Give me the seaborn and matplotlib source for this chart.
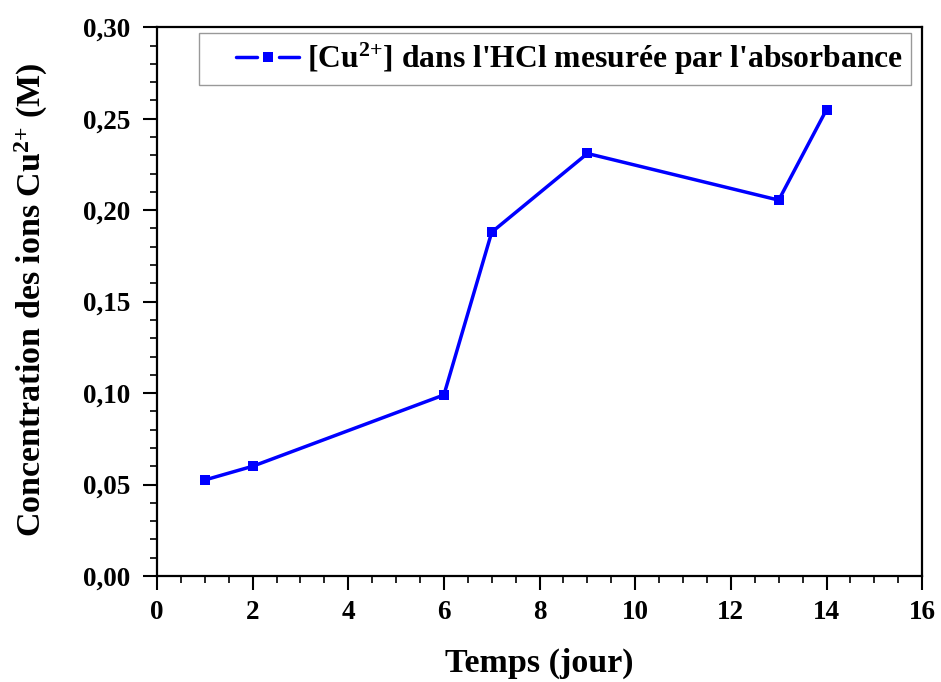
import matplotlib
matplotlib.use("Agg")
import matplotlib.pyplot as plt
import seaborn as sns
import pandas as pd
from matplotlib.ticker import MultipleLocator, FuncFormatter
from matplotlib.legend_handler import HandlerBase
from matplotlib.lines import Line2D

temps = [1, 2, 6, 7, 9, 13, 14]
concentration = [0.0525, 0.060, 0.099, 0.188, 0.231, 0.2055, 0.255]
series_label = "[Cu$^{2{+}}$] dans l'HCl mesurée par l'absorbance"
x_label = "Temps (jour)"
y_label = "Concentration des ions Cu$^{2{+}}$ (M)"

BLUE = "#0000FF"

sns.set_theme(style="ticks")
plt.rcParams['font.family'] = ['Liberation Serif', 'DejaVu Serif']
plt.rcParams['font.weight'] = 'bold'
plt.rcParams['text.color'] = 'black'
plt.rcParams['axes.labelcolor'] = 'black'
plt.rcParams['xtick.color'] = 'black'
plt.rcParams['ytick.color'] = 'black'
plt.rcParams['mathtext.fontset'] = 'custom'
plt.rcParams['mathtext.rm'] = 'Liberation Serif:bold'
plt.rcParams['mathtext.bf'] = 'Liberation Serif:bold'
plt.rcParams['mathtext.it'] = 'Liberation Serif:bold'
plt.rcParams['mathtext.default'] = 'bf'

df = pd.DataFrame({"t": temps, "c": concentration})

fig = plt.figure(figsize=(9.41, 6.82), dpi=100)
ax = fig.add_axes([0.1668, 0.1554, 0.8132, 0.8046])

sns.lineplot(data=df, x="t", y="c", ax=ax, color=BLUE, linewidth=2.5,
             marker="s", markersize=7.8, markeredgewidth=0)

ax.set_xlim(0, 16)
ax.set_ylim(0, 0.30)
ax.xaxis.set_major_locator(MultipleLocator(2))
ax.xaxis.set_minor_locator(MultipleLocator(0.5))
ax.yaxis.set_major_locator(MultipleLocator(0.05))
ax.yaxis.set_minor_locator(MultipleLocator(0.01))
ax.yaxis.set_major_formatter(FuncFormatter(lambda v, p: f"{v:.2f}".replace('.', ',')))
ax.xaxis.set_major_formatter(FuncFormatter(lambda v, p: f"{int(round(v))}"))

ax.tick_params(axis='both', which='major', direction='out', length=10, width=1.5,
               labelsize=19.5, colors='black')
ax.tick_params(axis='x', which='major', pad=7)
ax.tick_params(axis='y', which='major', pad=9)
ax.tick_params(axis='both', which='minor', direction='out', length=5, width=1.2)
for lab in ax.get_xticklabels() + ax.get_yticklabels():
    lab.set_fontweight('bold')

for s in ax.spines.values():
    s.set_visible(True)
    s.set_linewidth(1.6)
    s.set_color('black')

ax.set_xlabel(x_label, fontsize=24.5, fontweight='bold')
ax.set_ylabel(y_label, fontsize=24.5, fontweight='bold')
ax.xaxis.set_label_coords(0.5, -0.131)
ax.yaxis.set_label_coords(-0.140, 0.503)


class OriginHandler(HandlerBase):
    def create_artists(self, legend, orig_handle, xdescent, ydescent,
                       width, height, fontsize, trans):
        y = height / 2 - ydescent
        x0 = -xdescent
        f = lambda p: x0 + p * width
        l1 = Line2D([f(0.32), f(0.55)], [y, y], color=BLUE, lw=2.5)
        l2 = Line2D([f(0.78), f(1.0)], [y, y], color=BLUE, lw=2.5)
        m = Line2D([f(0.665)], [y], marker='s', markersize=7.8, color=BLUE,
                   markeredgewidth=0, linestyle='none')
        for a in (l1, l2, m):
            a.set_transform(trans)
        return [l1, l2, m]


line = ax.lines[0]
leg = ax.legend(handles=[line], labels=[series_label],
                handler_map={line: OriginHandler()},
                loc='upper left', bbox_to_anchor=(0.0549, 0.989),
                borderaxespad=0, frameon=True, fancybox=False,
                edgecolor='#808080', handlelength=2.9, handletextpad=0.25,
                borderpad=0.25, prop={'weight': 'bold', 'size': 22.8})
leg.get_frame().set_linewidth(1.0)

fig.savefig("out.png", dpi=100, facecolor='white')
